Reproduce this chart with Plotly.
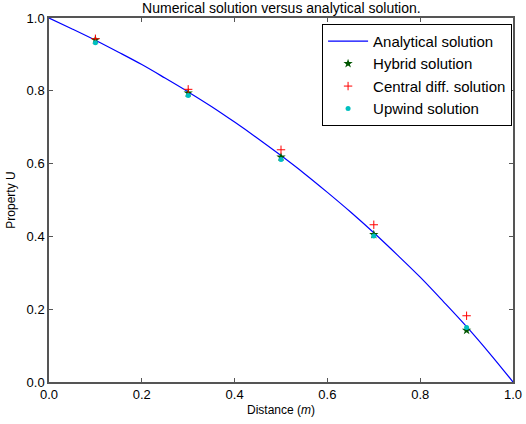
import plotly.graph_objects as go

# Analytical curve
x_analytical = [0.0, 0.05, 0.1, 0.15, 0.2, 0.25, 0.3, 0.35, 0.4, 0.45, 0.5,
                0.55, 0.6, 0.65, 0.7, 0.75, 0.8, 0.85, 0.9, 0.95, 1.0]
u_analytical = [1.0, 0.970, 0.939, 0.906, 0.872, 0.835, 0.797, 0.757, 0.714, 0.669, 0.622,
                0.573, 0.521, 0.467, 0.410, 0.350, 0.288, 0.221, 0.152, 0.078, 0.0]

x_nodes = [0.1, 0.3, 0.5, 0.7, 0.9]
u_hybrid = [0.940, 0.794, 0.618, 0.405, 0.142]
u_central = [0.943, 0.804, 0.638, 0.432, 0.182]
u_upwind = [0.932, 0.787, 0.611, 0.401, 0.150]

x_ticks = [0.0, 0.2, 0.4, 0.6, 0.8, 1.0]
y_ticks = [0.0, 0.2, 0.4, 0.6, 0.8, 1.0]

FONT = "Liberation Sans, Arial, sans-serif"

fig = go.Figure()
fig.add_trace(go.Scatter(x=x_analytical, y=u_analytical, mode="lines",
                         line=dict(color="#0000ff", width=1.2, shape="spline"),
                         name="Analytical solution"))
fig.add_trace(go.Scatter(x=x_nodes, y=u_hybrid, mode="markers",
                         marker=dict(symbol="star", size=7, color="#005500"),
                         name="Hybrid solution"))
fig.add_trace(go.Scatter(x=x_nodes, y=u_central, mode="markers",
                         marker=dict(symbol="cross-thin", size=6, color="#ff0000",
                                     line=dict(color="#ff0000", width=1)),
                         name="Central diff. solution"))
fig.add_trace(go.Scatter(x=x_nodes, y=u_upwind, mode="markers",
                         marker=dict(symbol="circle", size=5, color="#00bfbf"),
                         name="Upwind solution"))

axis_common = dict(showline=True, linecolor="#555555", linewidth=1.5, mirror="allticks",
                   ticks="inside", ticklen=4, tickcolor="#555555", tickwidth=1,
                   showgrid=False, zeroline=False, automargin=False,
                   tickfont=dict(family=FONT, size=13, color="black"))

fig.update_layout(
    width=526, height=424,
    margin=dict(l=49, r=13, t=18, b=42),
    paper_bgcolor="white", plot_bgcolor="white",
    font=dict(family=FONT, size=12, color="black"),
    title=dict(text="Numerical solution versus analytical solution.",
               x=0.535, xanchor="center", yref="container", y=0.992, yanchor="top",
               font=dict(family=FONT, size=14, color="black")),
    xaxis=dict(range=[0, 1], tickvals=x_ticks, ticktext=[f"{v:.1f}" for v in x_ticks],
               title=dict(text="Distance (<i>m</i>)", standoff=4,
                          font=dict(family=FONT, size=12)), **axis_common),
    yaxis=dict(range=[0, 1], tickvals=y_ticks, ticktext=[f"{v:.1f}" for v in y_ticks],
               title=dict(text="Property U", standoff=8,
                          font=dict(family=FONT, size=12)), **axis_common),
    legend=dict(x=0.998, y=0.984, xanchor="right", yanchor="top",
                bgcolor="white", bordercolor="black", borderwidth=1,
                font=dict(family=FONT, size=15, color="black"),
                tracegroupgap=1, itemwidth=40),
    showlegend=True,
)

fig.write_html("out.html")
